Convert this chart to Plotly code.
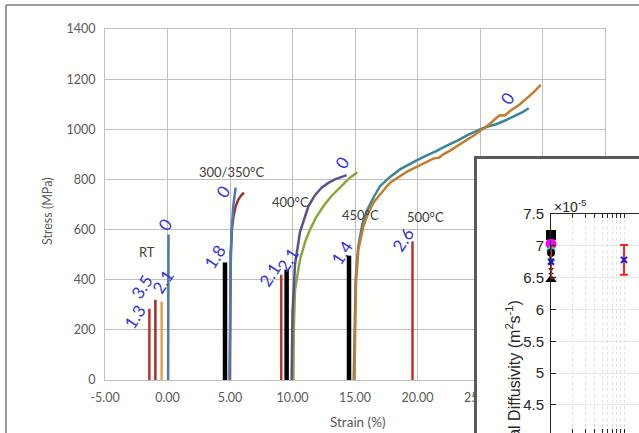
import plotly.graph_objects as go

W, H = 639, 433

# ---------------- main stress-strain data (strain %, stress MPa) ----------------
rt_a_strain = [-1.45, -1.45]
rt_a_stress = [0, 284]
rt_b_strain = [-0.97, -0.97]
rt_b_stress = [0, 320]
rt_c_strain = [-0.47, -0.47]
rt_c_stress = [0, 313]
rt_d_strain = [0.05, 0.08]
rt_d_stress = [0, 580]

t300_black_strain = [4.6, 4.6]
t300_black_stress = [0, 469]
t300_blue_strain = [4.95, 4.98, 5.05, 5.13, 5.25, 5.45]
t300_blue_stress = [0, 250, 450, 590, 690, 767]
t300_red_strain = [5.0, 5.02, 5.05, 5.15, 5.27, 5.45, 5.67, 5.9, 6.12]
t300_red_stress = [0, 300, 500, 600, 650, 693, 720, 737, 747]

t400_red_strain = [9.1, 9.1]
t400_red_stress = [0, 420]
t400_black_strain = [9.53, 9.53]
t400_black_stress = [0, 440]
t400_purple_strain = [9.93, 9.96, 10.0, 10.2, 10.6, 11.27, 11.8, 12.33, 12.9, 13.4, 13.9, 14.33]
t400_purple_stress = [0, 150, 270, 460, 590, 693, 737, 767, 787, 800, 810, 817]
t400_green_strain = [10.07, 10.1, 10.2, 10.6, 11.0, 11.4, 11.9, 12.47, 13.1, 13.8, 14.6, 15.18]
t400_green_stress = [0, 200, 360, 480, 550, 600, 650, 693, 733, 767, 807, 829]

t450_black_strain = [14.52, 14.52]
t450_black_stress = [0, 496]
t450_brown_strain = [14.95, 15.0, 15.08, 15.27, 15.67, 16.05, 16.47, 17.0, 17.4, 17.8, 18.5, 19.2,
                     19.93, 20.6, 21.3, 21.7, 22.07, 22.6, 23.1, 23.93, 24.5, 25.0, 25.8, 26.3,
                     26.6, 27.0, 27.4, 28.2, 28.8, 29.3, 29.86]
t450_brown_stress = [0, 187, 387, 520, 613, 665, 707, 740, 762, 787, 810, 832,
                     850, 868, 884, 886, 900, 915, 930, 958, 975, 993, 1022, 1045,
                     1056, 1055, 1073, 1100, 1125, 1148, 1177]
t450_teal_strain = [14.9, 14.95, 15.05, 15.25, 15.6, 16.0, 16.5, 17.0, 17.8, 18.6, 19.3, 19.93,
                    20.7, 21.5, 22.33, 23.2, 24.0, 25.0, 25.7, 26.3, 27.0, 27.8, 28.4, 28.9]
t450_teal_stress = [0, 200, 400, 530, 625, 680, 730, 773, 810, 840, 860, 876,
                    895, 913, 935, 955, 977, 1000, 1012, 1020, 1035, 1055, 1068, 1084]

t500_red_strain = [19.6, 19.6]
t500_red_stress = [0, 553]

x_tick_vals = [-5, 0, 5, 10, 15, 20, 25, 30, 35]
x_tick_text = ["-5.00", "0.00", "5.00", "10.00", "15.00", "20.00", "25.00", "30.00", "35.00"]
y_tick_vals = [0, 200, 400, 600, 800, 1000, 1200, 1400]

# blue value labels and temperature labels
num_labels = ["0", "1.3", "3.5", "2.1", "0", "1.8", "2.1", "2.1", "0", "1.4", "2.6", "0"]
num_label_x = [-0.2, -2.6, -2.04, -0.36, 4.44, 3.8, 8.2, 9.64, 13.96, 13.96, 18.84, 27.16]
num_label_y = [620, 252, 372, 392, 752, 492, 420, 480, 868, 508, 560, 1124]
temp_labels = ["RT", "300/350°C", "400°C", "450°C", "500°C"]
temp_label_x = [-1.64, 5.16, 9.8, 15.4, 20.6]
temp_label_y = [512, 828, 708, 660, 652]

# ---------------- inset (thermal diffusivity, x10^-5 m^2/s) ----------------
inset_left_x = [1, 1, 1, 1, 1, 1, 1]
inset_left_y = [7.17, 7.03, 6.96, 6.89, 6.77, 6.60, 6.47]
inset_err_x = [1, 10]
inset_err_y = [6.75, 6.78]
inset_err = [0.25, 0.235]
inset_y_ticks = [4.5, 5, 5.5, 6, 6.5, 7, 7.5]

fig = go.Figure()

def line(xs, ys, color, width):
    fig.add_trace(go.Scatter(x=xs, y=ys, mode="lines", line=dict(color=color, width=width),
                             showlegend=False, hoverinfo="skip"))

RED = "#c0302f"
DRED = "#9e2f2c"
ORANGE = "#e3a04a"
BLUE = "#4a7ab3"
PURPLE = "#5e4f8e"
GREEN = "#88a83c"
BROWN = "#c27e2e"
TEAL = "#3a8596"

line(rt_a_strain, rt_a_stress, RED, 2.5)
line(rt_b_strain, rt_b_stress, DRED, 2.5)
line(rt_c_strain, rt_c_stress, ORANGE, 2.5)
line(rt_d_strain, rt_d_stress, BLUE, 2.5)
line(t300_black_strain, t300_black_stress, "#000000", 4.5)
line(t300_red_strain, t300_red_stress, DRED, 2.5)
line(t300_blue_strain, t300_blue_stress, BLUE, 2.5)
line(t400_red_strain, t400_red_stress, RED, 2.5)
line(t400_black_strain, t400_black_stress, "#000000", 4.5)
line(t400_green_strain, t400_green_stress, GREEN, 2.5)
line(t400_purple_strain, t400_purple_stress, PURPLE, 2.5)
line(t450_black_strain, t450_black_stress, "#000000", 4.5)
line(t450_teal_strain, t450_teal_stress, TEAL, 2.5)
line(t450_brown_strain, t450_brown_stress, BROWN, 2.5)
line(t500_red_strain, t500_red_stress, RED, 2.5)

# blank subplot that supplies the inset's white background
fig.add_trace(go.Scatter(x=[0], y=[0], mode="markers", marker=dict(opacity=0),
                         xaxis="x2", yaxis="y2", showlegend=False, hoverinfo="skip"))

# inset markers
symbols = ["square", "circle", "triangle-up", "circle", "triangle-right", "hourglass", "triangle-up"]
colors = ["#000000", "#ff00ff", "#00e5e5", "#000000", "#1aa01a", "#000000", "#000000"]
sizes = [10, 11, 9, 8, 8, 6, 10]
for xi, yi, s, c, sz in zip(inset_left_x, inset_left_y, symbols, colors, sizes):
    fig.add_trace(go.Scatter(x=[xi], y=[yi], mode="markers", xaxis="x3", yaxis="y3",
                             marker=dict(symbol=s, color=c, size=sz, line=dict(width=0)),
                             cliponaxis=False, showlegend=False, hoverinfo="skip"))
fig.add_trace(go.Scatter(x=inset_err_x, y=inset_err_y, mode="markers", xaxis="x3", yaxis="y3",
                         marker=dict(symbol="x-thin", color="#1010ff", size=6,
                                     line=dict(width=2, color="#1010ff")),
                         error_y=dict(type="data", array=inset_err, color="#ff2020",
                                      thickness=2, width=4),
                         cliponaxis=False, showlegend=False, hoverinfo="skip"))

TICKC = "#595959"
ann = []
for t, x, y in zip(num_labels, num_label_x, num_label_y):
    ann.append(dict(text=t, x=x, y=y, xref="x", yref="y", showarrow=False, textangle=-57,
                    xanchor="center", yanchor="middle",
                    font=dict(family="Lato", size=17, color="#3434d6")))
for t, x, y in zip(temp_labels, temp_label_x, temp_label_y):
    ann.append(dict(text=t, x=x, y=y, xref="x", yref="y", showarrow=False,
                    xanchor="center", yanchor="middle",
                    font=dict(family="Lato", size=13, color="#404040")))
ann.append(dict(text="Stress (MPa)", x=47 / W, y=1 - 212 / H, xref="paper", yref="paper",
                xanchor="center", yanchor="middle",
                showarrow=False, textangle=-90, font=dict(family="Lato", size=12.5, color=TICKC)))
ann.append(dict(text="Strain (%)", x=358 / W, y=1 - 422 / H, xref="paper", yref="paper",
                xanchor="center", yanchor="middle",
                showarrow=False, font=dict(family="Lato", size=13.5, color=TICKC)))
ann.append(dict(text="×10<sup>-5</sup>", x=552 / W, y=1 - 206 / H, xref="paper", yref="paper",
                xanchor="left", yanchor="middle", showarrow=False,
                font=dict(family="Liberation Sans", size=14, color="#262626")))
ann.append(dict(text="Thermal Diffusivity (m<sup>2</sup>s<sup>-1</sup>)", x=513 / W, y=1 - 298 / H,
                xref="paper", yref="paper", xanchor="center", yanchor="top", showarrow=False,
                textangle=-90, font=dict(family="Liberation Sans", size=16, color="#262626")))

shapes = [
    dict(type="line", xref="paper", yref="paper", x0=6 / W, x1=1.01, y0=1 - 5 / H, y1=1 - 5 / H,
         line=dict(color="#7a7a7a", width=1.5), layer="above"),
    dict(type="line", xref="paper", yref="paper", x0=6 / W, x1=6 / W, y0=-0.01, y1=1 - 5 / H,
         line=dict(color="#7a7a7a", width=1.5), layer="above"),
    dict(type="rect", xref="paper", yref="paper", x0=475.5 / W, x1=1.05, y0=-0.05, y1=1 - 157.5 / H,
         line=dict(color="#5a5a5a", width=3), layer="above"),
]

GRID = "#bfbfbf"
fig.update_layout(
    width=W, height=H,
    margin=dict(l=0, r=0, t=0, b=0, autoexpand=False),
    paper_bgcolor="#ffffff", plot_bgcolor="#fffffe",
    showlegend=False,
    annotations=ann, shapes=shapes,
    xaxis=dict(domain=[105 / W, 605 / W], range=[-5, 35], tickvals=x_tick_vals, ticktext=x_tick_text,
               showgrid=True, gridcolor=GRID, gridwidth=1, zeroline=False,
               showline=True, linecolor=GRID, linewidth=1, mirror=True, ticks="",
               ticklabelstandoff=6,
               tickfont=dict(family="Lato", size=12.5, color=TICKC)),
    yaxis=dict(domain=[1 - 380 / H, 1 - 29 / H], range=[0, 1400], tickvals=y_tick_vals,
               showgrid=True, gridcolor=GRID, gridwidth=1, zeroline=False,
               showline=True, linecolor=GRID, linewidth=1, mirror=True, ticks="",
               ticklabelstandoff=6,
               tickfont=dict(family="Lato", size=12.5, color=TICKC)),
    xaxis2=dict(domain=[474 / W, 1], range=[0, 1], visible=False, anchor="y2"),
    yaxis2=dict(domain=[0, 1 - 156 / H], range=[0, 1], visible=False, anchor="x2"),
    xaxis3=dict(domain=[551 / W, 1], type="log", range=[0, 1.205], anchor="y3",
                dtick="D1", showticklabels=False, showgrid=True, gridcolor="#e2e2e2",
                griddash="dot", gridwidth=1, zeroline=False,
                showline=True, linecolor="#262626", linewidth=1, mirror="ticks",
                ticks="inside", ticklen=4, tickcolor="#262626"),
    yaxis3=dict(domain=[0, 1 - 214 / H], range=[4.06, 7.5], anchor="x3", tickvals=inset_y_ticks,
                showgrid=True, gridcolor="#e8e8e8", gridwidth=1, zeroline=False,
                showline=True, linecolor="#262626", linewidth=1, mirror=False,
                ticks="inside", ticklen=5, tickcolor="#262626", ticklabelstandoff=3,
                tickfont=dict(family="Liberation Sans", size=15, color="#262626")),
)

fig.write_html("out.html", config={"displayModeBar": False},
               post_script="document.body.style.margin='0';")
